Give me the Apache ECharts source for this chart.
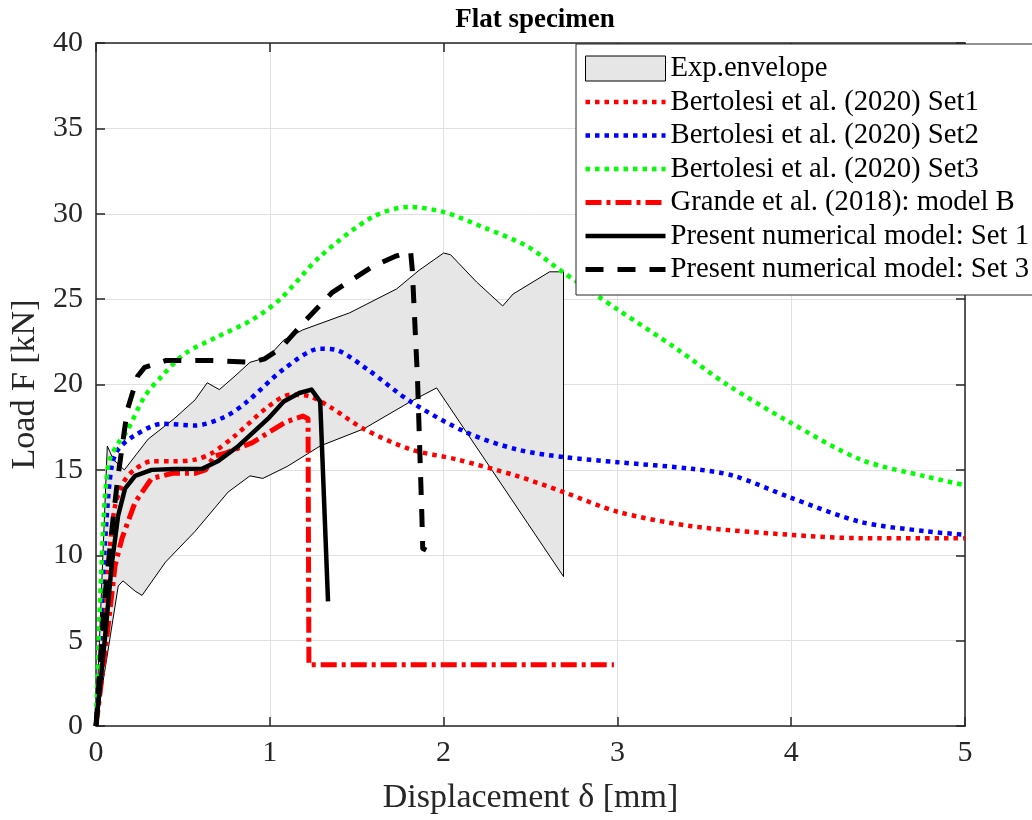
<!DOCTYPE html>
<html>
<head>
<meta charset="utf-8">
<script src="https://cdn.jsdelivr.net/npm/echarts@6/dist/echarts.min.js"></script>
<style>
html,body{margin:0;padding:0;background:#fff;}
#chart{width:1032px;height:820px;}
</style>
</head>
<body>
<div id="chart"></div>
<script>
// ---- Data ----
const xTicks = [0, 1, 2, 3, 4, 5];
const yTicks = [0, 5, 10, 15, 20, 25, 30, 35, 40];

// Experimental envelope (upper boundary, left to right)
const envUpperX = [0, 0.065, 0.10, 0.163, 0.30, 0.45, 0.57, 0.64, 0.71, 0.80, 0.886, 0.99, 1.08, 1.19, 1.46, 1.73, 1.86, 2.00, 2.04, 2.19, 2.34, 2.40, 2.61, 2.69];
const envUpperY = [0, 16.4, 15.6, 15.0, 16.8, 18.0, 19.1, 20.1, 19.7, 20.5, 21.3, 21.6, 22.6, 23.2, 24.2, 25.6, 26.7, 27.7, 27.6, 26.0, 24.6, 25.3, 26.6, 26.6];
// Experimental envelope (lower boundary, left to right)
const envLowerX = [0, 0.128, 0.155, 0.225, 0.265, 0.40, 0.57, 0.76, 0.886, 0.96, 1.10, 1.29, 1.54, 1.81, 1.96, 2.69];
const envLowerY = [0, 8.2, 8.5, 7.9, 7.65, 9.6, 11.4, 13.7, 14.65, 14.5, 15.2, 16.4, 17.4, 19.0, 19.8, 8.75];

// Bertolesi et al. (2020) Set1
const bert1X = [0, 0.04, 0.08, 0.11, 0.16, 0.22, 0.32, 0.45, 0.57, 0.67, 0.80, 0.99, 1.12, 1.23, 1.36, 1.54, 1.81, 2.08, 2.42, 2.69, 3.00, 3.43, 3.99, 4.40, 5.00];
const bert1Y = [0, 6.0, 10.5, 12.9, 14.3, 15.0, 15.5, 15.5, 15.6, 16.0, 17.0, 18.7, 19.4, 19.3, 18.6, 17.4, 16.2, 15.6, 14.65, 13.7, 12.55, 11.7, 11.2, 11.0, 11.0];
// Bertolesi et al. (2020) Set2
const bert2X = [0, 0.03, 0.06, 0.09, 0.128, 0.22, 0.38, 0.57, 0.74, 0.87, 1.08, 1.29, 1.39, 1.56, 1.81, 2.13, 2.42, 2.69, 3.00, 3.43, 3.67, 3.99, 4.40, 4.78, 5.00];
const bert2Y = [0, 6.5, 12.0, 15.2, 16.2, 17.0, 17.7, 17.6, 18.1, 19.0, 20.9, 22.1, 22.0, 20.9, 19.0, 17.2, 16.2, 15.75, 15.45, 15.06, 14.65, 13.4, 11.95, 11.4, 11.2];
// Bertolesi et al. (2020) Set3
const bert3X = [0, 0.03, 0.07, 0.13, 0.18, 0.28, 0.38, 0.51, 0.70, 0.90, 1.06, 1.29, 1.59, 1.80, 2.00, 2.23, 2.48, 2.67, 3.00, 3.34, 3.63, 3.99, 4.40, 4.78, 5.00];
const bert3Y = [0, 9.0, 15.3, 16.6, 17.3, 19.3, 20.5, 21.8, 22.8, 23.8, 25.0, 27.5, 29.8, 30.4, 30.1, 29.2, 28.1, 26.7, 24.4, 22.1, 20.0, 17.8, 15.6, 14.6, 14.1];
// Grande et al. (2018): model B
const grandeX = [0, 0.06, 0.11, 0.15, 0.225, 0.32, 0.44, 0.57, 0.63, 0.68, 0.75, 0.90, 1.09, 1.19, 1.22, 1.225, 2.98];
const grandeY = [0, 5.0, 9.4, 11.0, 13.1, 14.5, 14.8, 14.8, 15.0, 15.8, 16.0, 16.6, 17.8, 18.15, 18.0, 3.58, 3.58];
// Present numerical model: Set 1
const pres1X = [0, 0.05, 0.09, 0.127, 0.167, 0.225, 0.32, 0.45, 0.61, 0.70, 0.82, 0.99, 1.08, 1.17, 1.24, 1.29, 1.335];
const pres1Y = [0, 5.0, 9.4, 12.3, 13.9, 14.65, 15.0, 15.05, 15.06, 15.5, 16.4, 18.0, 19.0, 19.5, 19.7, 19.0, 7.3];
// Present numerical model: Set 3
const pres3X = [0, 0.05, 0.10, 0.127, 0.18, 0.24, 0.28, 0.40, 0.67, 0.90, 0.97, 1.06, 1.21, 1.36, 1.59, 1.72, 1.81, 1.82, 1.85, 1.875, 1.88, 1.90];
const pres3Y = [0, 7.5, 12.3, 14.65, 18.5, 20.5, 21.0, 21.4, 21.4, 21.3, 21.5, 22.1, 23.8, 25.4, 26.9, 27.5, 27.8, 26.7, 20.3, 12.3, 10.4, 10.3];

const names = [
  'Exp.envelope',
  'Bertolesi et al. (2020) Set1',
  'Bertolesi et al. (2020) Set2',
  'Bertolesi et al. (2020) Set3',
  'Grande et al. (2018): model B',
  'Present numerical model: Set 1',
  'Present numerical model: Set 3'
];

// ---- Build ----
const zip = (xs, ys) => xs.map((x, i) => [x, ys[i]]);
const envPolyX = envUpperX.concat(envLowerX.slice().reverse());
const envPolyY = envUpperY.concat(envLowerY.slice().reverse());
const envData = zip(envPolyX, envPolyY);

const FONT = '"Liberation Serif", "Times New Roman", serif';
const AX = '#262626';

const chart = echarts.init(document.getElementById('chart'), null, {renderer: 'canvas'});

function lineSeries(name, xs, ys, color, width, type, smooth) {
  return {
    name: name, type: 'line', data: zip(xs, ys), xAxisIndex: 0, yAxisIndex: 0,
    symbol: 'none', smooth: smooth, clip: true,
    lineStyle: {color: color, width: width, type: type, cap: 'butt', join: 'round'},
    itemStyle: {color: color},
    emphasis: {disabled: true}
  };
}
function legendLine(name, color, width, type) {
  return {
    name: name,
    itemStyle: {color: 'rgba(0,0,0,0)', borderWidth: 0, opacity: 0},
    lineStyle: {color: color, width: width, type: type, cap: 'butt', opacity: 1}
  };
}

const option = {
  animation: false,
  backgroundColor: '#fff',
  title: {
    text: 'Flat specimen', left: 530, top: 2, textAlign: 'center',
    textStyle: {fontFamily: FONT, fontSize: 27, fontWeight: 'bold', color: '#000'}
  },
  grid: {left: 96, right: 67, top: 43, bottom: 92, containLabel: false},
  legend: {
    left: 576, top: 44, orient: 'vertical', itemWidth: 80, itemHeight: 25, itemGap: 4.5,
    padding: [10, 20, 11, 7], backgroundColor: '#fff', borderColor: AX, borderWidth: 1,
    textStyle: {fontFamily: FONT, fontSize: 28.7, color: '#000', lineHeight: 29},
    selectedMode: false,
    data: [
      {name: names[0], icon: 'rect', itemStyle: {color: '#e6e6e6', borderColor: '#000', borderWidth: 1, opacity: 1}},
      legendLine(names[1], '#ff0000', 4.5, [4.5, 5]),
      legendLine(names[2], '#0000ff', 4.5, [4.5, 5]),
      legendLine(names[3], '#00ff00', 4.5, [4.5, 5]),
      legendLine(names[4], '#ff0000', 5, [16, 5, 4, 5]),
      legendLine(names[5], '#000000', 4.5, 'solid'),
      legendLine(names[6], '#000000', 5, [18, 14])
    ]
  },
  xAxis: [{
    type: 'value', min: xTicks[0], max: xTicks[xTicks.length - 1], interval: 1,
    name: 'Displacement δ [mm]', nameLocation: 'middle', nameGap: 55,
    nameTextStyle: {fontFamily: FONT, fontSize: 34, color: AX},
    axisLine: {show: true, onZero: false, lineStyle: {color: AX, width: 1.5}},
    axisTick: {show: true, inside: true, length: 9, lineStyle: {color: AX, width: 1.5}},
    axisLabel: {fontFamily: FONT, fontSize: 30, color: AX, margin: 12},
    splitLine: {show: true, lineStyle: {color: '#e0e0e0', width: 1}}
  }, {
    type: 'value', position: 'top', min: xTicks[0], max: xTicks[xTicks.length - 1], interval: 1,
    axisLine: {show: true, onZero: false, lineStyle: {color: AX, width: 1.5}},
    axisTick: {show: true, inside: true, length: 9, lineStyle: {color: AX, width: 1.5}},
    axisLabel: {show: false}, splitLine: {show: false}
  }],
  yAxis: [{
    type: 'value', min: yTicks[0], max: yTicks[yTicks.length - 1], interval: 5,
    name: 'Load F [kN]', nameLocation: 'middle', nameGap: 52,
    nameTextStyle: {fontFamily: FONT, fontSize: 34, color: AX},
    axisLine: {show: true, onZero: false, lineStyle: {color: AX, width: 1.5}},
    axisTick: {show: true, inside: true, length: 9, lineStyle: {color: AX, width: 1.5}},
    axisLabel: {fontFamily: FONT, fontSize: 30, color: AX, margin: 13},
    splitLine: {show: true, lineStyle: {color: '#e0e0e0', width: 1}}
  }, {
    type: 'value', position: 'right', min: yTicks[0], max: yTicks[yTicks.length - 1], interval: 5,
    axisLine: {show: true, onZero: false, lineStyle: {color: AX, width: 1.5}},
    axisTick: {show: true, inside: true, length: 9, lineStyle: {color: AX, width: 1.5}},
    axisLabel: {show: false}, splitLine: {show: false}
  }],
  series: [
    {
      name: names[0], type: 'custom', data: envData, xAxisIndex: 0, yAxisIndex: 0, clip: true,
      itemStyle: {color: '#e6e6e6'},
      encode: {x: 0, y: 1},
      renderItem: function (params, api) {
        if (params.dataIndex !== 0) return null;
        const pts = envData.map(p => api.coord(p));
        return {
          type: 'polygon', shape: {points: pts},
          style: {fill: '#e6e6e6', stroke: '#000', lineWidth: 1}
        };
      }
    },
    lineSeries(names[1], bert1X, bert1Y, '#ff0000', 4.5, [4.5, 5], 0.3),
    lineSeries(names[2], bert2X, bert2Y, '#0000ff', 4.5, [4.5, 5], 0.3),
    lineSeries(names[3], bert3X, bert3Y, '#00ff00', 4.5, [4.5, 5], 0.3),
    lineSeries(names[4], grandeX, grandeY, '#ff0000', 5, [16, 5, 4, 5], false),
    lineSeries(names[5], pres1X, pres1Y, '#000000', 4.5, 'solid', false),
    lineSeries(names[6], pres3X, pres3Y, '#000000', 5, [18, 14], false)
  ]
};
chart.setOption(option);
</script>
</body>
</html>
